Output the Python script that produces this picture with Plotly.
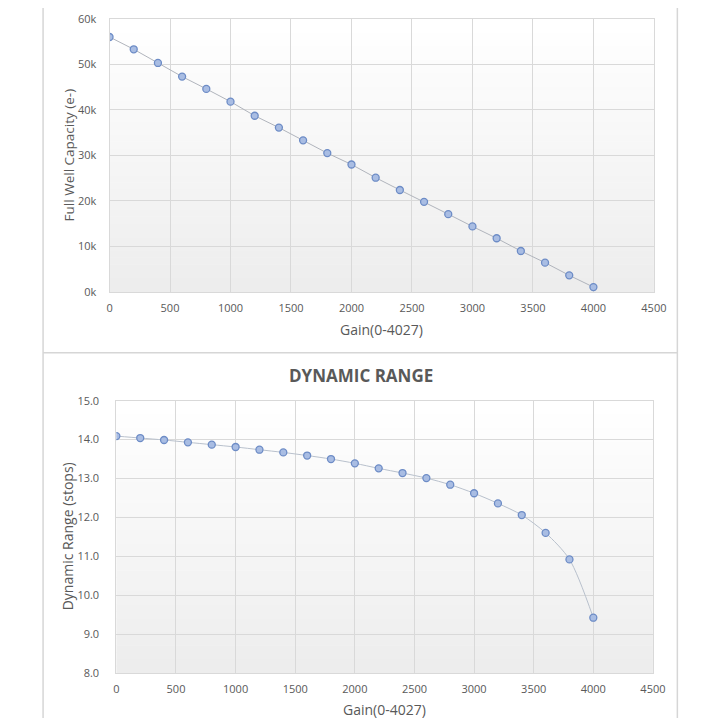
import plotly.graph_objects as go

W, H = 706, 725

gain = [0, 200, 400, 600, 800, 1000, 1200, 1400, 1600, 1800, 2000,
        2200, 2400, 2600, 2800, 3000, 3200, 3400, 3600, 3800, 4000]
full_well_k = [56.0, 53.3, 50.3, 47.3, 44.6, 41.8, 38.7, 36.1, 33.3, 30.5, 28.0,
               25.1, 22.4, 19.8, 17.1, 14.4, 11.8, 9.0, 6.45, 3.66, 1.08]
dyn_range = [14.09, 14.04, 13.99, 13.93, 13.87, 13.81, 13.74, 13.67, 13.59, 13.50, 13.39,
             13.26, 13.14, 13.01, 12.84, 12.62, 12.36, 12.06, 11.60, 10.92, 9.42]

x_ticks = [0, 500, 1000, 1500, 2000, 2500, 3000, 3500, 4000, 4500]
fw_ticks = [0, 10000, 20000, 30000, 40000, 50000, 60000]
fw_tick_labels = ["0k", "10k", "20k", "30k", "40k", "50k", "60k"]
dr_ticks = [8, 9, 10, 11, 12, 13, 14, 15]

chart_title = "DYNAMIC RANGE"
x_title = "Gain(0-4027)"
fw_title = "Full Well Capacity (e-)"
dr_title = "Dynamic Range (stops)"

FONT = "Open Sans"
TICK = "#595959"
GRID = "#d9d9d9"


def px_x(p):
    return p / W


def px_y(p):
    return 1 - p / H


fig = go.Figure()

marker = dict(size=7, color="#a9bde3", line=dict(color="#6d8cc6", width=1.3))

fig.add_trace(go.Scatter(
    x=gain, y=[v * 1000 for v in full_well_k], mode="lines+markers",
    line=dict(color="#b0b4bc", width=1), marker=marker,
    xaxis="x", yaxis="y", showlegend=False))

fig.add_trace(go.Scatter(
    x=gain, y=dyn_range, mode="lines+markers",
    line=dict(color="#b8c0cc", width=1, shape="spline", smoothing=0.8), marker=marker,
    xaxis="x2", yaxis="y2", showlegend=False))

axis_common = dict(showgrid=True, gridcolor=GRID, gridwidth=1, zeroline=False,
                   showline=True, linecolor=GRID, linewidth=1, mirror=True,
                   ticks="", tickfont=dict(family=FONT, size=11, color=TICK))

fig.update_layout(
    width=W, height=H,
    margin=dict(l=0, r=0, t=0, b=0),
    paper_bgcolor="white", plot_bgcolor="white",
    font=dict(family=FONT),
    xaxis=dict(domain=[px_x(109), px_x(666)], range=[0, 4500], tickvals=x_ticks,
               anchor="y", ticklabelstandoff=6, **axis_common),
    yaxis=dict(domain=[px_y(290), px_y(11)], range=[0, 60000], tickvals=fw_ticks,
               ticktext=fw_tick_labels, anchor="x", ticklabelstandoff=10, **axis_common),
    xaxis2=dict(domain=[px_x(116), px_x(665)], range=[0, 4500], tickvals=x_ticks,
                anchor="y2", ticklabelstandoff=6, **axis_common),
    yaxis2=dict(domain=[px_y(679), px_y(401)], range=[8, 15], tickvals=dr_ticks,
                tickformat=".1f", anchor="x2", ticklabelstandoff=14, **axis_common),
)

shapes = []
# gradient plot backgrounds
N = 40
for xr, yr in (("x domain", "y domain"), ("x2 domain", "y2 domain")):
    for i in range(N):
        t = i / (N - 1)
        c = int(round(237 + (255 - 237) * t))
        shapes.append(dict(type="rect", xref=xr, yref=yr, x0=0, x1=1,
                           y0=i / N, y1=(i + 1) / N + 0.002,
                           fillcolor=f"rgb({c},{c},{c})", line=dict(width=0),
                           layer="below"))

# chart frames
frame = dict(color="#d6d6d6", width=1.5)
shapes.append(dict(type="line", xref="paper", yref="paper", x0=px_x(41), x1=px_x(41),
                   y0=0, y1=1, line=frame))
shapes.append(dict(type="line", xref="paper", yref="paper", x0=px_x(690), x1=px_x(690),
                   y0=0, y1=1, line=frame))
shapes.append(dict(type="line", xref="paper", yref="paper", x0=px_x(41), x1=px_x(690),
                   y0=px_y(352), y1=px_y(352), line=frame))
fig.update_layout(shapes=shapes)

annotations = [
    dict(text=chart_title, x=px_x(366), y=px_y(375), xref="paper", yref="paper",
         showarrow=False, font=dict(family=FONT, size=17, color=TICK, weight="bold"),
         xanchor="center", yanchor="middle"),
    dict(text=x_title, x=px_x(387), y=px_y(328), xref="paper", yref="paper",
         showarrow=False, font=dict(family=FONT, size=14, color=TICK),
         xanchor="center", yanchor="middle"),
    dict(text=x_title, x=px_x(390), y=px_y(716), xref="paper", yref="paper",
         showarrow=False, font=dict(family=FONT, size=14, color=TICK),
         xanchor="center", yanchor="middle"),
    dict(text=fw_title, x=px_x(67), y=px_y(150), xref="paper", yref="paper",
         showarrow=False, textangle=-90, font=dict(family=FONT, size=13.5, color=TICK),
         xanchor="center", yanchor="middle"),
    dict(text=dr_title, x=px_x(66), y=px_y(540), xref="paper", yref="paper",
         showarrow=False, textangle=-90, font=dict(family=FONT, size=14, color=TICK),
         xanchor="center", yanchor="middle"),
]
fig.update_layout(annotations=annotations)

fig.write_html(
    "out.html",
    config={"displayModeBar": False},
    post_script="document.body.style.margin='0';document.body.style.overflow='hidden';",
)
